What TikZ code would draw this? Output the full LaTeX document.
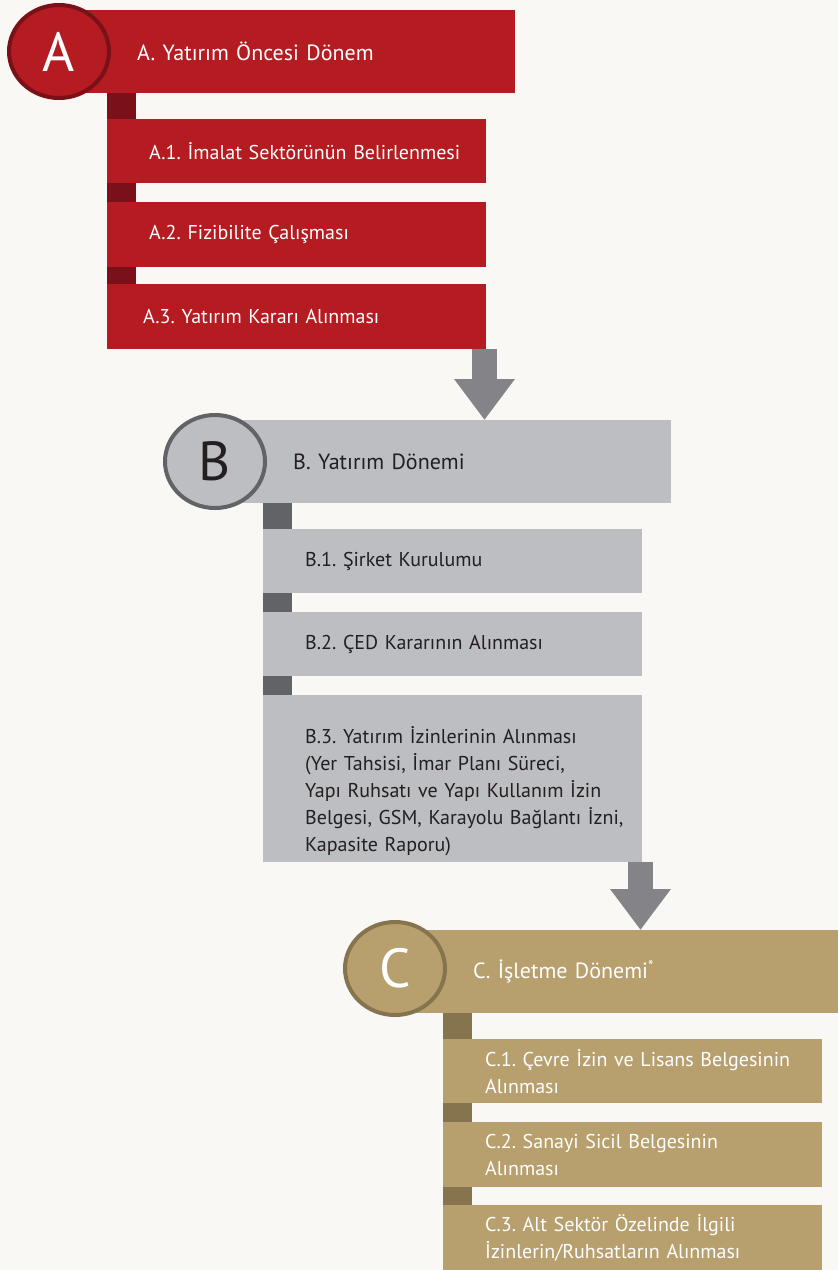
\documentclass[tikz,border=0pt]{standalone}
\usepackage{fontspec}
\setmainfont{PT Sans}
\usepackage{xcolor}
\usepackage{tikz}
\usetikzlibrary{shapes.geometric,arrows.meta}
\frenchspacing
\definecolor{bgpaper}{HTML}{F9F8F4}
\definecolor{redbox}{HTML}{B41C21}
\definecolor{redline}{HTML}{7A1018}
\definecolor{graybox}{HTML}{BDBEC1}
\definecolor{grayline}{HTML}{626366}
\definecolor{tanbox}{HTML}{B89F6E}
\definecolor{tanline}{HTML}{86744F}
\definecolor{arrowgray}{HTML}{848488}
\definecolor{darktext}{HTML}{231F20}
\tikzset{head box/.style={rectangle,anchor=north west,minimum width=456pt,minimum height=83pt,
                inner xsep=78pt,text width=300pt,align=left,font=\fontsize{22}{26}\selectfont},
            sub box/.style={rectangle,anchor=north west,minimum width=379pt,minimum height=64pt,
                inner xsep=0pt,text width=379pt,align=left,execute at begin node={\leftskip=42pt},
                font=\fontsize{20}{27}\selectfont},
            phase node/.style={ellipse,draw,line width=4pt,minimum width=100pt,minimum height=93pt,
                inner sep=0pt,font=\fontsize{55}{55}\selectfont},
            link bar/.style={line width=29pt},
            flow arrow/.style={draw=arrowgray,line width=25pt,-{Triangle[width=58pt,length=41pt]}},
            }
\begin{document}
\begin{tikzpicture}[x=1pt,y=-1pt]
				\useasboundingbox (0,0) rectangle (838,1270);
				\fill[bgpaper] (0,0) rectangle (838,1270);
				
				% A
				\node[head box,fill=redbox,text=white] (Ahead) at (59,10) {A. Yatırım Öncesi Dönem};
				\node[sub box,fill=redbox,text=white] (A1) at (107,119) {A.1. İmalat Sektörünün Belirlenmesi};
				\node[sub box,fill=redbox,text=white,minimum height=65pt] (A2) at (107,202) {A.2. Fizibilite Çalışması};
				\node[sub box,fill=redbox,text=white,minimum height=65pt,execute at begin node={\leftskip=36pt}] (A3) at (107,284) {A.3. Yatırım Kararı Alınması};
				\draw[link bar,redline] ([xshift=14.5pt]Ahead.south -| A1.west) -- ([xshift=14.5pt]A1.north west);
				\draw[link bar,redline] ([xshift=14.5pt]A1.south west) -- ([xshift=14.5pt]A2.north west);
				\draw[link bar,redline] ([xshift=14.5pt]A2.south west) -- ([xshift=14.5pt]A3.north west);
				\node[phase node,fill=redbox,draw=redline,text=white] (A) at (59,51.5) {A};
				
				% B
				\node[head box,fill=graybox,text=darktext] (Bhead) at (215,420) {B. Yatırım Dönemi};
				\node[sub box,fill=graybox,text=darktext] (B1) at (263,529) {B.1. Şirket Kurulumu};
				\node[sub box,fill=graybox,text=darktext] (B2) at (263,612) {B.2. ÇED Kararının Alınması};
				\node[sub box,fill=graybox,text=darktext,minimum height=167pt,text depth=88pt] (B3) at (263,695)
					{B.3. Yatırım İzinlerinin Alınması\\(Yer Tahsisi, İmar Planı Süreci,\\Yapı Ruhsatı ve Yapı Kullanım İzin\\Belgesi, GSM, Karayolu Bağlantı İzni,\\Kapasite Raporu)};
				\draw[link bar,grayline] ([xshift=14.5pt]Bhead.south -| B1.west) -- ([xshift=14.5pt]B1.north west);
				\draw[link bar,grayline] ([xshift=14.5pt]B1.south west) -- ([xshift=14.5pt]B2.north west);
				\draw[link bar,grayline] ([xshift=14.5pt]B2.south west) -- ([xshift=14.5pt]B3.north west);
				\node[phase node,fill=graybox,draw=grayline,text=darktext] (B) at (215,461.5) {B};
				
				% C
				\node[head box,fill=tanbox,text=white] (Chead) at (395,930) {C. İşletme Dönemi\textsuperscript{*}};
				\node[sub box,fill=tanbox,text=white] (C1) at (443,1039) {C.1. Çevre İzin ve Lisans Belgesinin\\Alınması};
				\node[sub box,fill=tanbox,text=white,minimum height=65pt] (C2) at (443,1122) {C.2. Sanayi Sicil Belgesinin\\Alınması};
				\node[sub box,fill=tanbox,text=white,minimum height=66pt] (C3) at (443,1205) {C.3. Alt Sektör Özelinde İlgili\\İzinlerin/Ruhsatların Alınması};
				\draw[link bar,tanline] ([xshift=14.5pt]Chead.south -| C1.west) -- ([xshift=14.5pt]C1.north west);
				\draw[link bar,tanline] ([xshift=14.5pt]C1.south west) -- ([xshift=14.5pt]C2.north west);
				\draw[link bar,tanline] ([xshift=14.5pt]C2.south west) -- ([xshift=14.5pt]C3.north west);
				\node[phase node,fill=tanbox,draw=tanline,text=white] (C) at (395,968.5) {C};
				
				% flow
				\draw[flow arrow] (A3.south -| 484.5,0) -- (Bhead.north -| 484.5,0);
				\draw[flow arrow] (B3.south -| 640.5,0) -- (Chead.north -| 640.5,0);
\end{tikzpicture}
\end{document}
